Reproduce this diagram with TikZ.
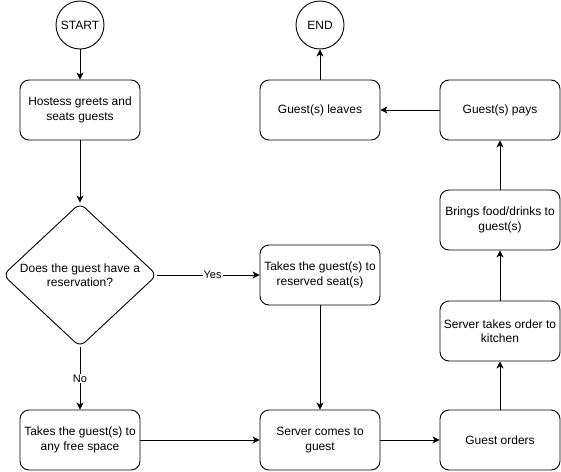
\documentclass[tikz,border=0pt]{standalone}
\usepackage{fontspec}
\setmainfont{Liberation Sans}
\usetikzlibrary{shapes.geometric,arrows.meta}
\begin{document}
\begin{tikzpicture}[x=1pt,y=-1pt,
  every node/.style={font=\fontsize{12}{14.5}\selectfont, text=black},
  box/.style={draw, line width=0.9pt, rounded corners=9pt, minimum width=120pt, minimum height=60pt, align=center, inner sep=2pt},
  term/.style={draw, line width=0.9pt, circle, minimum size=48pt, inner sep=0pt},
  decision/.style={draw, line width=0.9pt, diamond, rounded corners=7pt, minimum width=154pt, minimum height=144pt, inner sep=0pt},
  conn/.style={line width=0.9pt, -{Stealth[length=7pt,width=7pt,inset=2pt]}},
  lab/.style={fill=white, inner sep=1pt, font=\fontsize{11}{13}\selectfont}
]
\useasboundingbox (0,0) rectangle (561,471);
\node[term] (start) at (80,25) {START};
\node[term] (end) at (320,25) {END};
\node[box] (hostess) at (80,110) {Hostess greets and\\seats guests};
\node[decision] (dia) at (80,275) {};
\node[align=center] (diatext) at (dia.center) {Does the guest have a\\reservation?};
\node[box] (reserved) at (320,275) {Takes the guest(s) to\\reserved seat(s)};
\node[box] (free) at (80,440) {Takes the guest(s) to\\any free space};
\node[box] (server) at (320,440) {Server comes to\\guest};
\node[box] (orders) at (500,440) {Guest orders};
\node[box] (kitchen) at (500,331) {Server takes order to\\kitchen};
\node[box] (food) at (500,220) {Brings food/drinks to\\guest(s)};
\node[box] (pays) at (500,110) {Guest(s) pays};
\node[box] (leaves) at (320,110) {Guest(s) leaves};

\draw[conn] (start) -- (hostess);
\draw[conn] (hostess) -- (dia.north);
\draw[conn] (dia.east) -- node[lab, pos=0.54] {Yes} (reserved);
\draw[conn] (dia.south) -- node[lab] {No} (free);
\draw[conn] (reserved) -- (server);
\draw[conn] (free) -- (server);
\draw[conn] (server) -- (orders);
\draw[conn] (orders) -- (kitchen);
\draw[conn] (kitchen) -- (food);
\draw[conn] (food) -- (pays);
\draw[conn] (pays) -- (leaves);
\draw[conn] (leaves) -- (end);
\end{tikzpicture}
\end{document}
